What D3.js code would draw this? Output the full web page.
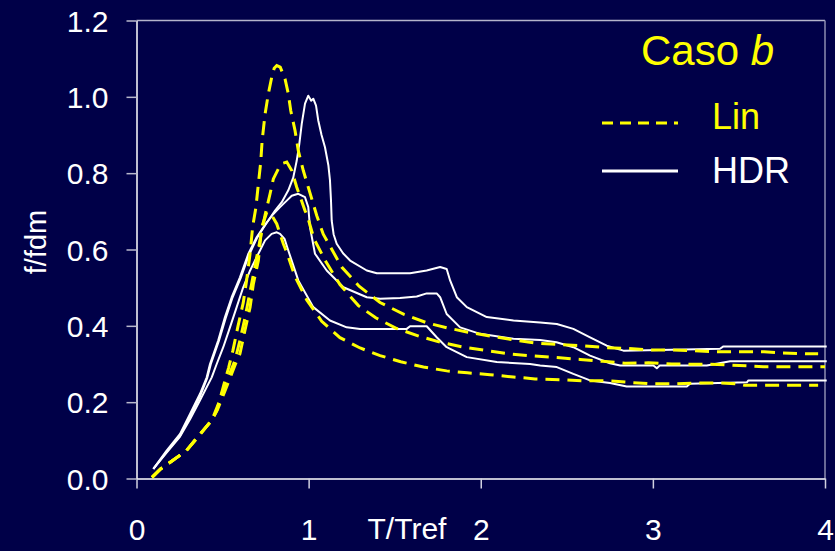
<!DOCTYPE html>
<html>
<head>
<meta charset="utf-8">
<script src="https://cdn.jsdelivr.net/npm/d3@7"></script>
<style>
  body { margin: 0; background: #000048; }
  svg { display: block; font-family: "Liberation Sans", Arial, sans-serif; }
</style>
</head>
<body>
<svg id="chart" width="835" height="551"></svg>
<script>
// values: [T/Tref, f/fdm]
const lin1 = [
  [0.09, 0.003], [0.14, 0.025], [0.21, 0.047], [0.29, 0.073], [0.37, 0.115], [0.44, 0.155],
  [0.48, 0.20], [0.51, 0.25], [0.535, 0.29], [0.56, 0.335], [0.59, 0.40], [0.62, 0.46],
  [0.64, 0.52], [0.66, 0.59], [0.675, 0.66], [0.694, 0.711], [0.708, 0.772], [0.722, 0.83],
  [0.73, 0.886], [0.747, 0.955], [0.766, 1.008], [0.785, 1.05], [0.80, 1.075], [0.815, 1.082],
  [0.835, 1.078], [0.863, 1.047], [0.882, 1.008], [0.896, 0.964], [0.921, 0.912], [0.94, 0.859],
  [0.969, 0.807], [0.992, 0.772], [1.02, 0.73], [1.047, 0.689], [1.085, 0.64], [1.119, 0.613],
  [1.192, 0.554], [1.293, 0.504], [1.415, 0.461], [1.554, 0.43], [1.686, 0.408], [1.802, 0.395],
  [1.919, 0.384], [2.044, 0.374], [2.18, 0.364], [2.316, 0.355], [2.45, 0.351], [2.587, 0.348],
  [2.722, 0.343], [2.852, 0.341], [2.974, 0.337], [3.11, 0.337], [3.245, 0.335], [3.371, 0.332],
  [3.646, 0.332], [3.749, 0.329], [3.884, 0.327], [3.96, 0.327]
];
const lin2 = [
  [0.09, 0.003], [0.14, 0.025], [0.21, 0.047], [0.29, 0.073], [0.37, 0.117], [0.437, 0.152],
  [0.466, 0.178], [0.495, 0.222], [0.533, 0.265], [0.572, 0.309], [0.60, 0.36], [0.63, 0.42],
  [0.66, 0.49], [0.69, 0.56], [0.72, 0.63], [0.747, 0.69], [0.776, 0.746], [0.795, 0.785],
  [0.824, 0.811], [0.85, 0.826], [0.873, 0.829], [0.902, 0.807], [0.931, 0.763], [0.979, 0.702],
  [0.992, 0.689], [1.031, 0.628], [1.099, 0.569], [1.182, 0.508], [1.289, 0.453], [1.39, 0.421],
  [1.512, 0.393], [1.641, 0.373], [1.764, 0.357], [1.903, 0.344], [2.035, 0.335], [2.17, 0.326],
  [2.306, 0.321], [2.442, 0.317], [2.577, 0.312], [2.709, 0.307], [2.838, 0.302], [2.974, 0.303],
  [3.11, 0.30], [3.375, 0.299], [3.503, 0.296], [3.642, 0.293], [3.913, 0.293], [4.0, 0.293]
];
const lin3 = [
  [0.09, 0.003], [0.14, 0.025], [0.21, 0.047], [0.29, 0.073], [0.37, 0.117], [0.437, 0.152],
  [0.47, 0.18], [0.51, 0.225], [0.545, 0.265], [0.575, 0.30], [0.601, 0.327], [0.63, 0.388],
  [0.66, 0.449], [0.679, 0.51], [0.708, 0.571], [0.727, 0.658], [0.757, 0.698], [0.785, 0.69],
  [0.815, 0.667], [0.853, 0.615], [0.876, 0.589], [0.921, 0.529], [0.989, 0.468], [1.076, 0.412],
  [1.182, 0.369], [1.299, 0.342], [1.415, 0.322], [1.535, 0.306], [1.667, 0.292], [1.802, 0.282],
  [1.922, 0.277], [2.054, 0.272], [2.19, 0.266], [2.316, 0.261], [2.461, 0.259], [2.596, 0.256],
  [2.732, 0.256], [2.858, 0.252], [2.997, 0.248], [3.133, 0.248], [3.264, 0.25], [3.395, 0.25],
  [3.497, 0.248], [3.536, 0.244], [3.665, 0.244], [3.96, 0.244]
];
const hdr1 = [
  [0.098, 0.025], [0.175, 0.073], [0.253, 0.117], [0.311, 0.169], [0.369, 0.222], [0.408, 0.265],
  [0.427, 0.30], [0.475, 0.362], [0.514, 0.423], [0.553, 0.475], [0.601, 0.527], [0.65, 0.589],
  [0.698, 0.632], [0.737, 0.658], [0.766, 0.676], [0.805, 0.702], [0.844, 0.724], [0.882, 0.755],
  [0.911, 0.789], [0.931, 0.833], [0.946, 0.877], [0.96, 0.929], [0.979, 0.982], [0.998, 1.003],
  [1.015, 0.99], [1.027, 0.995], [1.043, 0.977], [1.056, 0.938], [1.075, 0.90], [1.095, 0.868],
  [1.115, 0.82], [1.124, 0.781], [1.13, 0.728], [1.134, 0.676], [1.145, 0.64], [1.163, 0.615],
  [1.20, 0.59], [1.241, 0.571], [1.338, 0.545], [1.396, 0.538], [1.589, 0.538], [1.686, 0.545],
  [1.764, 0.554], [1.802, 0.549], [1.822, 0.519], [1.861, 0.475], [1.919, 0.449], [2.035, 0.423],
  [2.19, 0.414], [2.345, 0.409], [2.442, 0.405], [2.538, 0.392], [2.635, 0.37], [2.732, 0.348],
  [2.829, 0.335], [3.39, 0.34], [3.41, 0.346], [4.01, 0.346]
];
const hdr2 = [
  [0.098, 0.025], [0.175, 0.07], [0.253, 0.112], [0.311, 0.163], [0.369, 0.215], [0.41, 0.262],
  [0.432, 0.30], [0.478, 0.36], [0.518, 0.42], [0.556, 0.472], [0.605, 0.525], [0.653, 0.585],
  [0.70, 0.63], [0.757, 0.671], [0.795, 0.693], [0.834, 0.711], [0.873, 0.728], [0.902, 0.741],
  [0.94, 0.746], [0.979, 0.737], [0.998, 0.711], [1.008, 0.658], [1.037, 0.589], [1.105, 0.545],
  [1.202, 0.501], [1.338, 0.475], [1.415, 0.471], [1.531, 0.473], [1.628, 0.477], [1.686, 0.485],
  [1.744, 0.485], [1.764, 0.475], [1.802, 0.431], [1.88, 0.396], [1.996, 0.379], [2.19, 0.366],
  [2.345, 0.363], [2.44, 0.357], [2.538, 0.344], [2.635, 0.322], [2.751, 0.302], [2.81, 0.296],
  [3.003, 0.296], [3.023, 0.289], [3.04, 0.296], [3.313, 0.296], [3.449, 0.307], [4.01, 0.307]
];
const hdr3 = [
  [0.098, 0.025], [0.175, 0.068], [0.253, 0.11], [0.311, 0.155], [0.369, 0.205], [0.437, 0.265],
  [0.466, 0.30], [0.504, 0.344], [0.543, 0.396], [0.582, 0.449], [0.62, 0.501], [0.66, 0.545],
  [0.708, 0.589], [0.747, 0.624], [0.785, 0.641], [0.815, 0.645], [0.834, 0.641], [0.86, 0.628],
  [0.88, 0.60], [0.94, 0.519], [1.027, 0.449], [1.124, 0.414], [1.221, 0.396], [1.299, 0.392],
  [1.57, 0.392], [1.589, 0.399], [1.686, 0.399], [1.744, 0.37], [1.802, 0.344], [1.919, 0.318],
  [2.093, 0.305], [2.286, 0.30], [2.345, 0.296], [2.442, 0.292], [2.538, 0.274], [2.635, 0.257],
  [2.751, 0.25], [2.848, 0.241], [3.197, 0.241], [3.216, 0.248], [3.546, 0.252], [3.555, 0.257],
  [4.01, 0.257]
];

const xTicks = [0, 1, 2, 3, 4];
const yTicks = [0, 0.2, 0.4, 0.6, 0.8, 1.0, 1.2];
const xTitle = "T/Tref";
const yTitle = "f/fdm";
const legendTitle = "Caso ";
const legendTitleItalic = "b";
const legendNames = ["Lin", "HDR"];

const svg = d3.select("#chart");
const width = +svg.attr("width");
const height = +svg.attr("height");

svg.append("rect")
  .attr("width", width)
  .attr("height", height)
  .attr("fill", "#000048");

const x = d3.scaleLinear().domain([0, 4]).range([136.5, 825]);
const y = d3.scaleLinear().domain([0, 1.2]).range([478.5, 20.5]);

const yellow = "#ffff00";
const white = "#ffffff";

// plot frame (top and right)
svg.append("line")
  .attr("x1", x(0)).attr("x2", x(4))
  .attr("y1", y(1.2)).attr("y2", y(1.2))
  .attr("stroke", "#b4b4cc").attr("stroke-width", 1.5);

svg.append("line")
  .attr("x1", x(4)).attr("x2", x(4))
  .attr("y1", y(1.2)).attr("y2", y(0))
  .attr("stroke", "#8c8cb0").attr("stroke-width", 1.5);

// Y axis
const yAxis = svg.append("g")
  .attr("transform", `translate(${x(0)},0)`)
  .call(d3.axisLeft(y).tickValues(yTicks).tickFormat(d3.format(".1f")).tickSize(10).tickSizeOuter(0));
yAxis.select(".domain").attr("stroke", white).attr("stroke-width", 1.5);
yAxis.selectAll(".tick line").attr("stroke", "#b8b8cc").attr("stroke-width", 1.5);
yAxis.selectAll(".tick text")
  .attr("x", -28)
  .attr("dy", "0.36em")
  .attr("fill", white)
  .style("font-size", "30px")
  .style("font-family", "'Liberation Sans', Arial, sans-serif");

// X axis
const xAxis = svg.append("g")
  .attr("transform", `translate(0,${y(0)})`)
  .call(d3.axisBottom(x).tickValues(xTicks).tickFormat(d3.format("d")).tickSize(10).tickSizeOuter(0));
xAxis.select(".domain").attr("stroke", white).attr("stroke-width", 1.5);
xAxis.selectAll(".tick line").attr("stroke", "#d0d0e0").attr("stroke-width", 1.5);
xAxis.selectAll(".tick text")
  .attr("y", 61)
  .attr("dy", 0)
  .attr("fill", white)
  .style("font-size", "30px")
  .style("font-family", "'Liberation Sans', Arial, sans-serif");

// axis titles
svg.append("text")
  .attr("x", 407)
  .attr("y", 539)
  .attr("text-anchor", "middle")
  .attr("fill", white)
  .style("font-size", "30px")
  .text(xTitle);

svg.append("text")
  .attr("transform", "translate(46,242) rotate(-90)")
  .attr("text-anchor", "middle")
  .attr("fill", white)
  .style("font-size", "29px")
  .text(yTitle);

// curves
const line = d3.line()
  .x(d => x(d[0]))
  .y(d => y(d[1]));

[hdr1, hdr2, hdr3].forEach(s => {
  svg.append("path")
    .datum(s)
    .attr("fill", "none")
    .attr("stroke", white)
    .attr("stroke-width", 2)
    .attr("stroke-linejoin", "round")
    .attr("d", line);
});

[lin1, lin2, lin3].forEach(s => {
  svg.append("path")
    .datum(s)
    .attr("fill", "none")
    .attr("stroke", yellow)
    .attr("stroke-width", 3)
    .attr("stroke-dasharray", "14 8")
    .attr("d", line);
});

// legend
svg.append("text")
  .attr("x", 641)
  .attr("y", 65)
  .attr("fill", yellow)
  .style("font-size", "42px")
  .text(legendTitle)
  .append("tspan")
  .style("font-style", "italic")
  .text(legendTitleItalic);

svg.append("line")
  .attr("x1", 602).attr("x2", 678)
  .attr("y1", 123).attr("y2", 123)
  .attr("stroke", yellow)
  .attr("stroke-width", 3)
  .attr("stroke-dasharray", "11 7");

svg.append("text")
  .attr("x", 712)
  .attr("y", 129)
  .attr("fill", yellow)
  .style("font-size", "36px")
  .text(legendNames[0]);

svg.append("line")
  .attr("x1", 602).attr("x2", 678)
  .attr("y1", 171).attr("y2", 171)
  .attr("stroke", white)
  .attr("stroke-width", 3);

svg.append("text")
  .attr("x", 712)
  .attr("y", 183)
  .attr("fill", white)
  .style("font-size", "36px")
  .text(legendNames[1]);
</script>
</body>
</html>
